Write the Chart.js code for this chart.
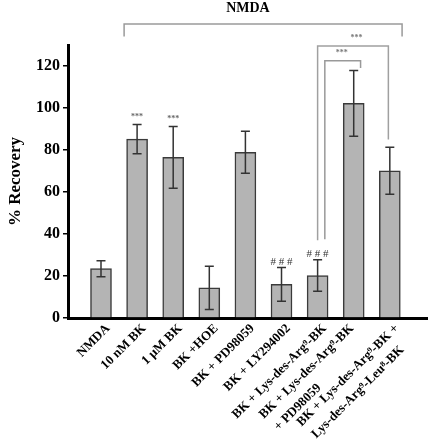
<!DOCTYPE html>
<html>
<head>
<meta charset="utf-8">
<script src="https://cdn.jsdelivr.net/npm/chart.js@4"></script>
<style>
html,body{margin:0;padding:0;background:#fff;}
#wrap{width:430px;height:447px;position:relative;}
</style>
</head>
<body>
<div id="wrap"><canvas id="c" width="430" height="447"></canvas></div>
<script>
const categories = [
  "NMDA",
  "10 nM BK",
  "1 µM BK",
  "BK +HOE",
  "BK + PD98059",
  "BK + LY294002",
  "BK + Lys-des-Arg⁹-BK",
  ["BK + Lys-des-Arg⁹-BK", "+ PD98059"],
  ["BK + Lys-des-Arg⁹-BK +", "Lys-des-Arg⁹-Leu⁸-BK"]
];
const recovery = [23.5, 85.2, 76.5, 14.4, 78.9, 16.0, 20.2, 102.2, 70.1];
const sem = [3.8, 7.0, 14.7, 10.3, 10.0, 8.0, 7.5, 15.7, 11.2];
const markers = ["", "***", "***", "", "", "###", "###", "", ""];
const yTicks = [0, 20, 40, 60, 80, 100, 120];

const FONT = "'Liberation Serif', 'Times New Roman', serif";

const overlay = {
  id: 'overlay',
  afterDatasetsDraw(chart) {
    const ctx = chart.ctx;
    const xs = chart.scales.x, ys = chart.scales.y;
    const X = v => xs.getPixelForValue(v);
    const Y = v => ys.getPixelForValue(v);
    ctx.save();
    ctx.strokeStyle = '#333';
    ctx.lineWidth = 1.5;
    recovery.forEach((m, i) => {
      const x = X(i), t = Y(m + sem[i]), b = Y(m - sem[i]);
      ctx.beginPath();
      ctx.moveTo(x, t); ctx.lineTo(x, b);
      ctx.moveTo(x - 4.5, t); ctx.lineTo(x + 4.5, t);
      ctx.moveTo(x - 4.5, b); ctx.lineTo(x + 4.5, b);
      ctx.stroke();
    });
    ctx.textAlign = 'center';
    ctx.textBaseline = 'alphabetic';
    markers.forEach((mk, i) => {
      if (!mk) return;
      const x = X(i), t = Y(recovery[i] + sem[i]);
      if (mk === '***') {
        ctx.fillStyle = '#666';
        ctx.font = 'bold 8px ' + FONT;
        ctx.fillText('***', x, t - 5);
      } else {
        ctx.fillStyle = '#333';
        ctx.font = '11px ' + FONT;
        ctx.fillText('# # #', x, t - 3);
      }
    });
    function bracket(x1, x2, yTop, yL, yR, color) {
      ctx.strokeStyle = color;
      ctx.lineWidth = 1.5;
      ctx.beginPath();
      ctx.moveTo(X(x1), Y(yL));
      ctx.lineTo(X(x1), Y(yTop));
      ctx.lineTo(X(x2), Y(yTop));
      ctx.lineTo(X(x2), Y(yR));
      ctx.stroke();
    }
    bracket(0.64, 8.34, 140, 134, 134, '#9a9a9a');
    bracket(6.0, 7.96, 129.5, 37, 85, '#a0a0a0');
    bracket(6.2, 7.19, 122.5, 37.5, 119, '#999');
    ctx.fillStyle = '#777';
    ctx.font = 'bold 8px ' + FONT;
    ctx.fillText('***', X(7.08), Y(132.3));
    ctx.fillText('***', X(6.67), Y(125.3));
    ctx.fillStyle = '#000';
    ctx.font = 'bold 14px ' + FONT;
    ctx.textBaseline = 'middle';
    ctx.fillText('NMDA', X(4.07), Y(147.5));

    // rotated category labels (lines start-aligned)
    const nudge = {7: -9};
    ctx.font = 'bold 13px ' + FONT;
    ctx.fillStyle = '#000';
    ctx.textBaseline = 'top';
    categories.forEach((lab, i) => {
      const lines = Array.isArray(lab) ? lab : [lab];
      ctx.save();
      ctx.translate(X(i) + 2.4 + (nudge[i] || 0), ys.bottom + 3.9);
      ctx.rotate(-Math.PI / 4);
      const w1 = ctx.measureText(lines[0]).width;
      ctx.textAlign = 'right';
      ctx.fillText(lines[0], 0, 0);
      ctx.textAlign = 'left';
      for (let k = 1; k < lines.length; k++) {
        ctx.fillText(lines[k], -w1 + 2, k * 19);
      }
      ctx.restore();
    });
    ctx.restore();
  }
};

new Chart(document.getElementById('c'), {
  type: 'bar',
  data: {
    datasets: [{
      data: recovery.map((v, i) => ({x: i, y: v})),
      backgroundColor: '#b4b4b4',
      borderColor: '#3a3a3a',
      borderWidth: 1.5,
      barThickness: 21
    }]
  },
  options: {
    responsive: false,
    animation: false,
    layout: {padding: {top: 45, right: 3, left: 0, bottom: 0}},
    plugins: {legend: {display: false}, tooltip: {enabled: false}},
    scales: {
      x: {
        type: 'linear',
        offset: false,
        min: -0.914,
        max: 9.03,
        afterFit(s) { s.height = 129; },
        afterBuildTicks(s) { s.ticks = categories.map((_, i) => ({value: i})); },
        grid: {display: false, drawTicks: false, offset: false},
        border: {display: true, color: '#000', width: 3},
        ticks: {display: false}
      },
      y: {
        min: 0,
        max: 130,
        afterFit(s) { s.width = 68; },
        afterBuildTicks(s) { s.ticks = yTicks.map(v => ({value: v})); },
        grid: {drawOnChartArea: false, drawTicks: true, tickLength: 5, color: '#000', lineWidth: 1.5},
        border: {display: true, color: '#000', width: 3},
        ticks: {
          padding: 3,
          color: '#000',
          font: {family: FONT, size: 16, weight: 'bold'}
        },
        title: {
          display: true,
          text: '% Recovery',
          color: '#000',
          padding: {top: 5, bottom: 0},
          font: {family: FONT, size: 17, weight: 'bold'}
        }
      }
    }
  },
  plugins: [overlay]
});
</script>
</body>
</html>
